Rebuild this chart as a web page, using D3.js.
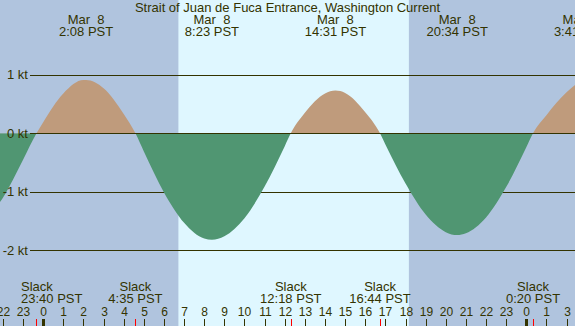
<!DOCTYPE html>
<html>
<head>
<meta charset="utf-8">
<script src="https://cdn.jsdelivr.net/npm/d3@7"></script>
<style>
  body { margin: 0; background: #b0c4de; }
  svg { display: block; font-family: "Liberation Sans", Arial, sans-serif; }
  text { white-space: pre; }
</style>
</head>
<body>
<svg id="chart" width="575" height="326"></svg>
<script>
let title = "Strait of Juan de Fuca Entrance, Washington Current";

// current speed (kt), one value per hour (hour 0 = Mar 8 midnight)
let hours = [-3, -2, -1, 0, 1, 2, 3, 4, 5, 6, 7, 8, 9, 10, 11, 12, 13, 14, 15, 16, 17, 18, 19, 20, 21, 22, 23, 24, 25, 26, 27];
let speed = [-1.52, -1.10, -0.45, 0.19, 0.68, 0.91, 0.77, 0.33, -0.31, -1.01, -1.53, -1.80, -1.76, -1.45, -0.91, -0.22, 0.35, 0.68, 0.69, 0.36, -0.19, -0.86, -1.39, -1.69, -1.71, -1.44, -0.92, -0.24, 0.31, 0.70, 0.95];

// max flood / ebb events
let maxTimes = ["2:08", "8:23", "14:31", "20:34", "3:41"];
let maxDays = [0, 0, 0, 0, 1];
let maxDates = ["Mar  8", "Mar  8", "Mar  8", "Mar  8", "Mar  9"];
let maxSpeed = [0.91, -1.82, 0.73, -1.74, 1.0];

// slack water events
let slackTimes = ["23:40", "4:35", "12:18", "16:44", "0:20"];
let slackDays = [-1, 0, 0, 0, 1];

let sunrise = "6:43";
let sunset = "18:10";

let yTicks = [1, 0, -1, -2];
let hourTicks = d3.range(-2, 27);
// clock labels under the ticks (clock springs forward on Mar 9)
let hourLabels = ["22", "23", "0", "1", "2", "3", "4", "5", "6", "7", "8", "9", "10", "11", "12", "13", "14", "15", "16", "17", "18", "19", "20", "21", "22", "23", "0", "1", "3"];

let W = 575, H = 326;
let svg = d3.select("#chart");
let ink = "#333300";

let toHour = (t, day) => {
    let [h, m] = t.split(":").map(Number);
    return day * 24 + h + m / 60;
}

let x = d3.scaleLinear().domain([0, 24]).range([43.2, 526.3]);
let y = d3.scaleLinear().domain([-2, 1]).range([250.3, 74.8]);

// backgrounds
svg.append("rect").attr("width", W).attr("height", H).attr("fill", "#b0c4de");
svg.append("rect")
   .attr("x", x(toHour(sunrise, 0)))
   .attr("width", x(toHour(sunset, 0)) - x(toHour(sunrise, 0)))
   .attr("height", H)
   .attr("fill", "#dff7ff");

// grid lines (zero line is drawn later, above the fills)
svg.selectAll(".grid")
   .data(yTicks.filter((d) => d !== 0))
   .enter()
   .append("line")
   .attr("class", "grid")
   .attr("x1", 30).attr("x2", W)
   .attr("y1", (d) => Math.round(y(d)) + 0.5)
   .attr("y2", (d) => Math.round(y(d)) + 0.5)
   .attr("stroke", ink)
   .attr("stroke-width", 1)

// curve points: hourly readings plus the events
let points = hours.map((h, i) => [h, speed[i]])
maxTimes.forEach((t, i) => points.push([toHour(t, maxDays[i]), maxSpeed[i]]))
slackTimes.forEach((t, i) => points.push([toHour(t, slackDays[i]), 0]))
points.sort((a, b) => a[0] - b[0])

let area = d3.area()
             .x((d) => x(d[0]))
             .y0(y(0))
             .y1((d) => y(d[1]))
             .curve(d3.curveMonotoneX)

let defs = svg.append("defs");
defs.append("clipPath").attr("id", "above")
    .append("rect").attr("x", 0).attr("y", 0).attr("width", W).attr("height", y(0));
defs.append("clipPath").attr("id", "below")
    .append("rect").attr("x", 0).attr("y", y(0)).attr("width", W).attr("height", H - y(0));

svg.append("path").datum(points)
   .attr("d", area)
   .attr("fill", "#bf9b7c")
   .attr("clip-path", "url(#above)")
svg.append("path").datum(points)
   .attr("d", area)
   .attr("fill", "#509672")
   .attr("clip-path", "url(#below)")

svg.append("line")
   .attr("x1", 30).attr("x2", W)
   .attr("y1", Math.round(y(0)) + 0.5).attr("y2", Math.round(y(0)) + 0.5)
   .attr("stroke", ink)

// y labels
svg.selectAll(".ylab")
   .data(yTicks)
   .enter()
   .append("text")
   .attr("class", "ylab")
   .attr("x", 28)
   .attr("y", (d) => y(d) + 4.5)
   .attr("text-anchor", "end")
   .attr("font-size", 13)
   .attr("fill", ink)
   .text((d) => d + " kt")

// title
svg.append("text")
   .attr("x", W / 2).attr("y", 12)
   .attr("text-anchor", "middle")
   .attr("font-size", 13)
   .attr("fill", ink)
   .text(title)

// max event labels at the top
maxTimes.forEach((t, i) => {
    let cx = Math.min(x(toHour(t, maxDays[i])), W + 6);
    [[maxDates[i], 24], [t + " PST", 36]].forEach(([s, yy]) => {
        svg.append("text")
           .attr("x", cx).attr("y", yy)
           .attr("text-anchor", "middle")
           .attr("font-size", 13)
           .attr("fill", ink)
           .text(s)
    })
})

// slack labels at the bottom, kept clear of the axis labels on the left
slackTimes.forEach((t, i) => {
    let cx = x(toHour(t, slackDays[i]));
    [["Slack", 291], [t + " PST", 303]].forEach(([s, yy]) => {
        let txt = svg.append("text")
                     .attr("y", yy)
                     .attr("font-size", 13)
                     .attr("fill", ink)
                     .text(s)
        let w = txt.node().getComputedTextLength();
        txt.attr("x", Math.max(cx - w / 2, 21))
    })
})

// hour ticks
let g = svg.selectAll(".hour")
           .data(hourTicks)
           .enter()
           .append("g")
           .attr("class", "hour")
           .attr("transform", (d) => `translate(${Math.round(x(d)) + 0.5}, 0)`)

g.append("line")
 .attr("y1", 319).attr("y2", H)
 .attr("stroke", ink)
 .attr("stroke-width", (d) => (d % 24 === 0 ? 3 : 1))

g.append("text")
 .attr("y", 316)
 .attr("text-anchor", "middle")
 .attr("font-size", 12)
 .attr("fill", ink)
 .text((d, i) => hourLabels[i])

// slack ticks in red
svg.selectAll(".slack")
   .data(slackTimes.map((t, i) => toHour(t, slackDays[i])))
   .enter()
   .append("line")
   .attr("class", "slack")
   .attr("x1", (d) => Math.round(x(d)) + 0.5)
   .attr("x2", (d) => Math.round(x(d)) + 0.5)
   .attr("y1", 319).attr("y2", H)
   .attr("stroke", "#ff0000")
</script>
</body>
</html>
